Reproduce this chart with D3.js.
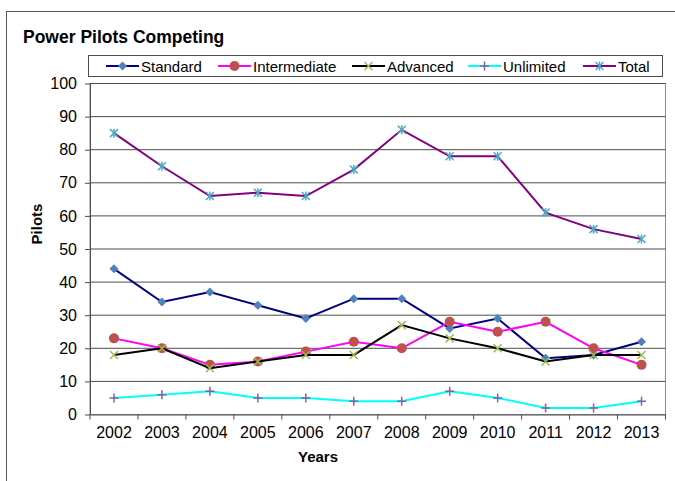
<!DOCTYPE html>
<html>
<head>
<meta charset="utf-8">
<script src="https://cdn.jsdelivr.net/npm/d3@7"></script>
<style>
  body { margin: 0; background: #fff; }
  svg { display: block; font-family: "Liberation Sans", Arial, sans-serif; }
</style>
</head>
<body>
<div id="chart"></div>
<script>
// data
var years = ["2002","2003","2004","2005","2006","2007","2008","2009","2010","2011","2012","2013"];
var standard     = [44, 34, 37, 33, 29, 35, 35, 26, 29, 17, 18, 22];
var intermediate = [23, 20, 15, 16, 19, 22, 20, 28, 25, 28, 20, 15];
var advanced     = [18, 20, 14, 16, 18, 18, 27, 23, 20, 16, 18, 18];
var unlimited    = [5, 6, 7, 5, 5, 4, 4, 7, 5, 2, 2, 4];
var total        = [85, 75, 66, 67, 66, 74, 86, 78, 78, 61, 56, 53];
var yTicks = [0, 10, 20, 30, 40, 50, 60, 70, 80, 90, 100];

var series = [
  {name: "Standard",     values: standard,     line: "#000080", marker: "diamond",  mcolor: "#4F81BD"},
  {name: "Intermediate", values: intermediate, line: "#FF00FF", marker: "circle",   mcolor: "#C0504D"},
  {name: "Advanced",     values: advanced,     line: "#000000", marker: "x",        mcolor: "#9BBB59"},
  {name: "Unlimited",    values: unlimited,    line: "#00FFFF", marker: "plus",     mcolor: "#8064A2"},
  {name: "Total",        values: total,        line: "#800080", marker: "asterisk", mcolor: "#4BACC6"}
];

var W = 675, H = 481;
var margin = {top: 83.5, right: 9.5, bottom: 66.5, left: 90};

var svg = d3.select("#chart").append("svg")
    .attr("width", W)
    .attr("height", H);

// outer chart frame (runs off the right / bottom of the picture)
svg.append("rect")
    .attr("x", 6.5).attr("y", 11.5)
    .attr("width", W).attr("height", H)
    .style("fill", "none").style("stroke", "#595959").style("stroke-width", 1);

// title
svg.append("text")
    .attr("x", 23).attr("y", 43)
    .style("font-size", "17.5px").style("font-weight", "bold")
    .text("Power Pilots Competing");

var xScale = d3.scaleBand()
    .domain(years)
    .range([margin.left, W - margin.right]);

var yScale = d3.scaleLinear()
    .domain([0, 100])
    .range([H - margin.bottom, margin.top]);

// plot area border
svg.append("rect")
    .attr("x", margin.left).attr("y", margin.top)
    .attr("width", W - margin.right - margin.left)
    .attr("height", H - margin.bottom - margin.top)
    .style("fill", "none").style("stroke", "#8c8c8c").style("stroke-width", 1);

// gridlines
svg.append("g").selectAll("line")
    .data(yTicks.filter(function(d) { return d > 0; }))
    .enter().append("line")
    .attr("x1", margin.left).attr("x2", W - margin.right)
    .attr("y1", function(d) { return yScale(d); })
    .attr("y2", function(d) { return yScale(d); })
    .style("stroke", "#4d4d4d").style("stroke-width", 1);

// y axis
var yAxis = svg.append("g")
    .attr("class", "y axis")
    .attr("transform", "translate(" + margin.left + ",0)")
    .call(d3.axisLeft(yScale).tickValues(yTicks).tickSize(5).tickSizeOuter(0).tickPadding(8));
yAxis.selectAll("text").style("font-size", "16px").style("fill", "#000")
    .style("font-family", "'Liberation Sans', Arial, sans-serif");
yAxis.selectAll("line, path").style("stroke", "#4d4d4d");

// x axis, ticks sit between the categories
var xAxis = svg.append("g")
    .attr("class", "x axis")
    .attr("transform", "translate(0," + (H - margin.bottom) + ")")
    .call(d3.axisBottom(xScale).tickSize(0).tickPadding(12));
xAxis.selectAll("text").style("font-size", "16px").style("fill", "#000")
    .style("font-family", "'Liberation Sans', Arial, sans-serif");
xAxis.select("path").style("stroke", "#4d4d4d");
xAxis.selectAll(".sep")
    .data(years.concat(["end"]))
    .enter().append("line")
    .attr("class", "sep")
    .attr("x1", function(d, i) { return margin.left + i * xScale.bandwidth(); })
    .attr("x2", function(d, i) { return margin.left + i * xScale.bandwidth(); })
    .attr("y1", 0).attr("y2", 5)
    .style("stroke", "#4d4d4d");

// axis titles
svg.append("text")
    .attr("x", 318).attr("y", 462)
    .style("text-anchor", "middle")
    .style("font-size", "15px").style("font-weight", "bold")
    .text("Years");

svg.append("text")
    .attr("transform", "translate(42,224) rotate(-90)")
    .style("text-anchor", "middle")
    .style("font-size", "15px").style("font-weight", "bold")
    .text("Pilots");

// marker drawing
function drawMarker(g, type, color) {
  if (type === "diamond") {
    g.append("path").attr("d", "M0,-4.5L4.5,0L0,4.5L-4.5,0Z").style("fill", color);
  } else if (type === "circle") {
    g.append("circle").attr("r", 5).style("fill", color);
  } else if (type === "x") {
    g.append("path").attr("d", "M-4,-4L4,4M-4,4L4,-4").style("stroke", color).style("stroke-width", 1.5);
  } else if (type === "plus") {
    g.append("path").attr("d", "M-4.5,0L4.5,0M0,-4.5L0,4.5").style("stroke", color).style("stroke-width", 1.5);
  } else if (type === "asterisk") {
    g.append("path").attr("d", "M-4,-4L4,4M-4,4L4,-4M0,-4.5L0,4.5").style("stroke", color).style("stroke-width", 1.5);
  }
}

var line = d3.line()
    .x(function(d, i) { return xScale(years[i]) + xScale.bandwidth() / 2; })
    .y(function(d) { return yScale(d); });

series.forEach(function(s) {
  svg.append("path")
      .datum(s.values)
      .attr("class", "line")
      .style("fill", "none")
      .style("stroke", s.line)
      .style("stroke-width", 2)
      .attr("d", line);

  svg.selectAll(".m-" + s.marker)
      .data(s.values)
      .enter().append("g")
      .attr("class", "m-" + s.marker)
      .attr("transform", function(d, i) {
        return "translate(" + (xScale(years[i]) + xScale.bandwidth() / 2) + "," + yScale(d) + ")";
      })
      .each(function() { drawMarker(d3.select(this), s.marker, s.mcolor); });
});

// legend
var legendX = [106, 218, 352, 468, 583];
svg.append("rect")
    .attr("x", 88.5).attr("y", 55.5)
    .attr("width", 574).attr("height", 21)
    .style("fill", "#fff").style("stroke", "#4d4d4d");

var legend = svg.selectAll(".legend-item")
    .data(series)
    .enter().append("g")
    .attr("class", "legend-item")
    .attr("transform", function(d, i) { return "translate(" + legendX[i] + ",66)"; });

legend.append("line")
    .attr("x1", 0).attr("x2", 33)
    .style("stroke", function(d) { return d.line; })
    .style("stroke-width", 2);

legend.each(function(d) {
  var g = d3.select(this).append("g").attr("transform", "translate(16.5,0)");
  drawMarker(g, d.marker, d.mcolor);
});

legend.append("text")
    .attr("x", 35).attr("y", 5.5)
    .style("font-size", "15px")
    .text(function(d) { return d.name; });
</script>
</body>
</html>
